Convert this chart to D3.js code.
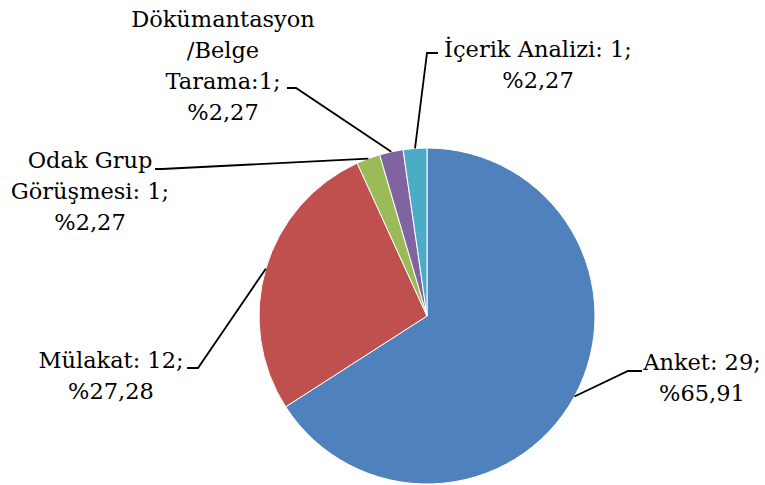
<!DOCTYPE html>
<html>
<head>
<meta charset="utf-8">
<script src="https://cdn.jsdelivr.net/npm/d3@7"></script>
<style>
  body { margin: 0; background: #fff; }
  svg { display: block; }
</style>
</head>
<body>
<div id="chart-area"></div>
<script>
// data
const categories = ["Anket", "Mülakat", "Odak Grup Görüşmesi", "Dökümantasyon/Belge Tarama", "İçerik Analizi"]
const counts = [29, 12, 1, 1, 1]
const percentLabels = ["%65,91", "%27,28", "%2,27", "%2,27", "%2,27"]
const labelLines = [
  ["Anket: 29;", "%65,91"],
  ["Mülakat: 12;", "%27,28"],
  ["Odak Grup", "Görüşmesi: 1;", "%2,27"],
  ["Dökümantasyon", "/Belge", "Tarama:1;", "%2,27"],
  ["İçerik Analizi: 1;", "%2,27"]
]
const colors = ["#4F81BD", "#C0504D", "#9BBB59", "#8064A2", "#4BACC6"]

const W = 765, H = 485
const CX = 427, CY = 316, R = 168
const FONT = "DejaVu Serif", FSIZE = 22.5, LINE_H = 31

// label placement: text centre x, first baseline y, leader elbow start/end
const labelPos = [
  { x: 702, y: 370, stub: [[642, 371], [628, 371]] },
  { x: 111, y: 368, stub: [[187, 368], [198, 368]] },
  { x: 90,  y: 168, stub: [[155, 169], [162, 169]] },
  { x: 223, y: 27,  stub: [[287, 88], [296, 88]] },
  { x: 538, y: 57,  stub: [[438, 53], [427, 53]] }
]

const svg = d3.select("#chart-area").append("svg")
  .attr("width", W)
  .attr("height", H)

const pie = d3.pie().sort(null).value(d => d)
const arcs = pie(counts)
const arc = d3.arc().innerRadius(0).outerRadius(R)

const g = svg.append("g").attr("transform", `translate(${CX}, ${CY})`)

g.selectAll("path").data(arcs).enter().append("path")
  .attr("d", arc)
  .attr("fill", (d, i) => colors[i])
  .attr("stroke", "#fff")
  .attr("stroke-width", 1)

// leader lines
const edge = d3.arc().innerRadius(R).outerRadius(R)
svg.selectAll("polyline.leader").data(arcs).enter().append("polyline")
  .attr("class", "leader")
  .attr("fill", "none")
  .attr("stroke", "#000")
  .attr("stroke-width", 1.8)
  .attr("points", (d, i) => {
    const c = edge.centroid(d)
    const s = labelPos[i].stub
    return [s[0], s[1], [CX + c[0], CY + c[1]]].map(p => p.join(",")).join(" ")
  })

// labels
const labels = svg.selectAll("text.lbl").data(arcs).enter().append("text")
  .attr("class", "lbl")
  .attr("font-family", FONT)
  .attr("font-size", FSIZE)
  .attr("fill", "#000")
  .attr("text-anchor", "middle")

labels.each(function(d, i) {
  const t = d3.select(this)
  labelLines[i].forEach((line, k) => {
    t.append("tspan")
      .attr("x", labelPos[i].x)
      .attr("y", labelPos[i].y + k * LINE_H)
      .text(line)
  })
})
</script>
</body>
</html>
